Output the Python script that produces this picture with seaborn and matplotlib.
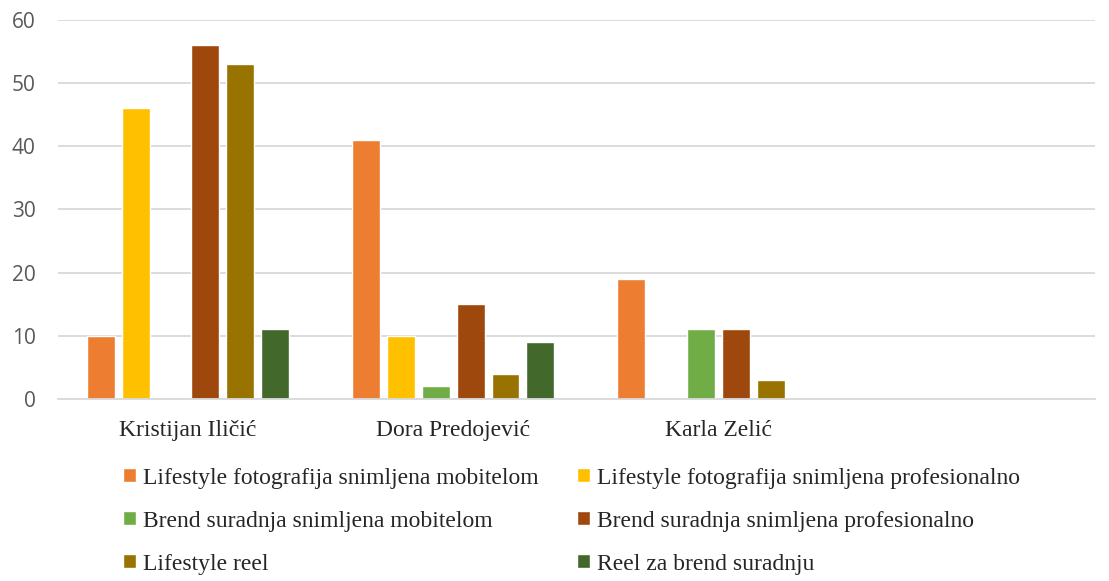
import pandas as pd
import matplotlib.pyplot as plt
import seaborn as sns

# podaci procitani sa grafa
people = ["Kristijan Iličić", "Dora Predojević", "Karla Zelić"]
series = ["Lifestyle fotografija snimljena mobitelom",
          "Lifestyle fotografija snimljena profesionalno",
          "Brend suradnja snimljena mobitelom",
          "Brend suradnja snimljena profesionalno",
          "Lifestyle reel",
          "Reel za brend suradnju"]
life_mob = [10, 41, 19]
life_pro = [46, 10, 0]
brend_mob = [0, 2, 11]
brend_pro = [56, 15, 11]
life_reel = [53, 4, 3]
brend_reel = [11, 9, 0]
colors = ["#ED7D31", "#FFC000", "#70AD47", "#9E480E", "#997300", "#43682B"]

values = [life_mob, life_pro, brend_mob, brend_pro, life_reel, brend_reel]
rows = []
for s, vals in zip(series, values):
    for p, v in zip(people, vals):
        rows.append({"osoba": p, "tip": s, "broj": v})
df = pd.DataFrame(rows)

sns.set_style("white")
plt.rcParams['font.family'] = ['Liberation Serif', 'DejaVu Serif']

fig = plt.figure(figsize=(11.09, 5.81), dpi=100)
ax = fig.add_axes([0.0523, 0.3133, 0.9350, 0.6523])

sns.barplot(data=df, x="osoba", y="broj", hue="tip", order=people, hue_order=series,
            palette=colors, saturation=1, width=0.79, gap=0.2, ax=ax, legend=True)

ax.set_xlim(-0.49, 3.42)
ax.set_ylim(0, 60)
ax.set_yticks(range(0, 61, 10))
ax.yaxis.grid(True, color="#D9D9D9", linewidth=1.3)
ax.set_axisbelow(True)
for sp in ["top", "right", "left"]:
    ax.spines[sp].set_visible(False)
ax.spines["bottom"].set_color("#D9D9D9")
ax.spines["bottom"].set_linewidth(1.3)
ax.set_xlabel("")
ax.set_ylabel("")
ax.tick_params(axis="x", length=0, pad=15, labelsize=17)
ax.tick_params(axis="y", length=0, pad=16)
for t in ax.get_yticklabels():
    t.set_fontfamily("Open Sans")
    t.set_fontsize(15)
    t.set_color("#595959")

# legenda po redovima kao u originalu
handles, labels = ax.get_legend_handles_labels()
order = [0, 2, 4, 1, 3, 5]
ax.legend([handles[i] for i in order], [labels[i] for i in order],
          loc="upper left", bbox_to_anchor=(0.0425, -0.125), ncol=2,
          frameon=False, fontsize=17, handlelength=0.55, handleheight=0.55,
          handletextpad=0.3, columnspacing=1.6, labelspacing=0.93)

plt.savefig("out.png", dpi=100)
